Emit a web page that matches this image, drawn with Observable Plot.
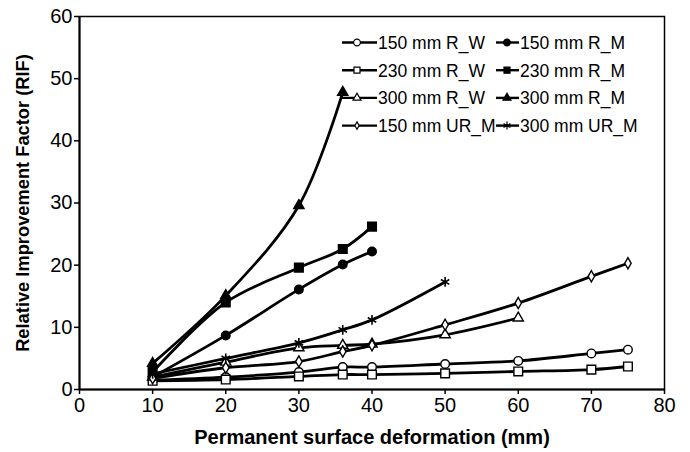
<!DOCTYPE html>
<html>
<head>
<meta charset="utf-8">
<script src="https://cdn.jsdelivr.net/npm/d3@7"></script>
<script src="https://cdn.jsdelivr.net/npm/@observablehq/plot@0.6"></script>
<style>
  html, body { margin: 0; padding: 0; background: #fff; }
  #wrap { position: relative; width: 690px; height: 452px; font-family: "Liberation Sans", Arial, sans-serif; }
  #wrap svg text { font-family: "Liberation Sans", Arial, sans-serif; }
  .overlay { position: absolute; left: 0; top: 0; }
</style>
</head>
<body>
<div id="wrap"></div>
<script>
// ---- data ----
const xLong = [10, 20, 30, 36, 40, 50, 60, 70, 75];
const r150W = [1.5, 2.0, 2.8, 3.6, 3.6, 4.1, 4.6, 5.8, 6.4];
const r230W = [1.4, 1.6, 2.1, 2.4, 2.4, 2.6, 2.9, 3.2, 3.7];
const x300W = [10, 20, 30, 36, 40, 50, 60];
const r300W = [2.0, 4.4, 6.7, 7.1, 7.3, 8.8, 11.5];
const xM = [10, 20, 30, 36, 40];
const r150M = [2.0, 8.7, 16.1, 20.1, 22.2];
const r230M = [2.8, 14.0, 19.6, 22.6, 26.2];
const x300M = [10, 20, 30, 36];
const r300M = [4.2, 15.1, 29.6, 47.8];
const ur150 = [1.8, 3.5, 4.5, 6.1, 7.1, 10.4, 13.9, 18.2, 20.3];
const x300UR = [10, 20, 30, 36, 40, 50];
const ur300 = [2.5, 5.0, 7.5, 9.6, 11.2, 17.3];

const seriesNames = ["150 mm R_W", "150 mm R_M", "230 mm R_W", "230 mm R_M",
                     "300 mm R_W", "300 mm R_M", "150 mm UR_M", "300 mm UR_M"];
const seriesSymbols = ["circle", "circle", "square", "square", "triangle", "triangle", "diamond", "asterisk"];
const seriesFilled = [false, true, false, true, false, true, false, false];
const xTicks = [0, 10, 20, 30, 40, 50, 60, 70, 80];
const yTicks = [0, 10, 20, 30, 40, 50, 60];
const xTitle = "Permanent surface deformation (mm)";
const yTitle = "Relative Improvement Factor (RIF)";

const seriesX = [xLong, xM, xLong, xM, x300W, x300M, xLong, x300UR];
const seriesY = [r150W, r150M, r230W, r230M, r300W, r300M, ur150, ur300];

const rows = [];
seriesNames.forEach((name, i) => {
  seriesX[i].forEach((x, j) => rows.push({series: name, x, y: seriesY[i][j], idx: i}));
});

const marks = [
  Plot.frame({stroke: "#000", strokeWidth: 1.5}),
  Plot.axisX({ticks: xTicks, tickSize: 5, tickPadding: 3, fontSize: 20, label: null}),
  Plot.axisY({ticks: yTicks, tickSize: 5, tickPadding: 2, fontSize: 20, label: null}),
  Plot.ruleX([0], {stroke: "#000", strokeWidth: 2}),
  Plot.ruleY([0], {stroke: "#000", strokeWidth: 2}),
  Plot.line(rows, {x: "x", y: "y", z: "series", stroke: "#000", strokeWidth: 2.8, curve: "catmull-rom"})
];
seriesNames.forEach((name, i) => {
  const data = rows.filter(d => d.series === name);
  const sym = seriesSymbols[i];
  const r = {diamond: 3.4, asterisk: 4.6, triangle: 3.8, square: 4.9, circle: 4.3}[sym];
  marks.push(Plot.dot(data, {
    x: "x", y: "y", symbol: () => sym, r,
    fill: sym === "asterisk" ? "none" : (seriesFilled[i] ? "#000" : "#fff"),
    stroke: "#000", strokeWidth: sym === "asterisk" ? 1.6 : 1.4
  }));
});

const chart = Plot.plot({
  width: 690, height: 452,
  marginLeft: 79, marginRight: 26, marginTop: 16, marginBottom: 63,
  x: {domain: [0, 80]},
  y: {domain: [0, 60]},
  symbol: {type: "identity"},
  style: {fontFamily: "Liberation Sans, Arial, sans-serif", color: "#000", background: "#fff"},
  marks
});
document.getElementById("wrap").appendChild(chart);
d3.select(chart).selectAll('[aria-label="x-axis tick label"], [aria-label="y-axis tick label"]')
  .attr("font-size", 20);
d3.select(chart).selectAll("text").style("font-size", "20px");
d3.select(chart).selectAll('[aria-label="x-axis tick"], [aria-label="y-axis tick"]')
  .attr("stroke-width", 1.5);

// ---- overlay: axis titles and legend ----
const ov = d3.select("#wrap").append("svg").attr("class", "overlay")
  .attr("width", 690).attr("height", 452).style("pointer-events", "none");
ov.append("text").attr("x", 372).attr("y", 437).attr("dy", "0.36em")
  .attr("text-anchor", "middle").attr("font-weight", "bold").attr("font-size", 20)
  .text(xTitle);
ov.append("text").attr("transform", "translate(22,203) rotate(-90)").attr("dy", "0.36em")
  .attr("text-anchor", "middle").attr("font-weight", "bold").attr("font-size", 18.3)
  .text(yTitle);

seriesNames.forEach((name, i) => {
  const col = i % 2, row = Math.floor(i / 2);
  const lx0 = col === 0 ? 342 : 496, lx1 = col === 0 ? 377 : 519;
  const mx = col === 0 ? 357 : 507;
  const y0 = 42.5 + row * 27.7;
  const g = ov.append("g").attr("transform", `translate(0,${y0})`);
  g.append("line").attr("x1", lx0).attr("x2", lx1).attr("y1", 0).attr("y2", 0)
    .attr("stroke", "#000").attr("stroke-width", 2.4);
  const sym = seriesSymbols[i];
  const sizeMap = {circle: 36, square: 36, triangle: 28, diamond: 16, asterisk: 44};
  const symType = {circle: d3.symbolCircle, square: d3.symbolSquare, triangle: d3.symbolTriangle,
                   diamond: d3.symbolDiamond, asterisk: d3.symbolAsterisk}[sym];
  g.append("path").attr("transform", `translate(${mx},0)`)
    .attr("d", d3.symbol(symType, sizeMap[sym])())
    .attr("fill", sym === "asterisk" ? "none" : (seriesFilled[i] ? "#000" : "#fff"))
    .attr("stroke", "#000").attr("stroke-width", 1.2);
  g.append("text").attr("x", lx1 + 1).attr("y", 0).attr("dy", "0.36em")
    .attr("font-size", 17.5).attr("fill", "#000")
    .text(name);
});
</script>
</body>
</html>
